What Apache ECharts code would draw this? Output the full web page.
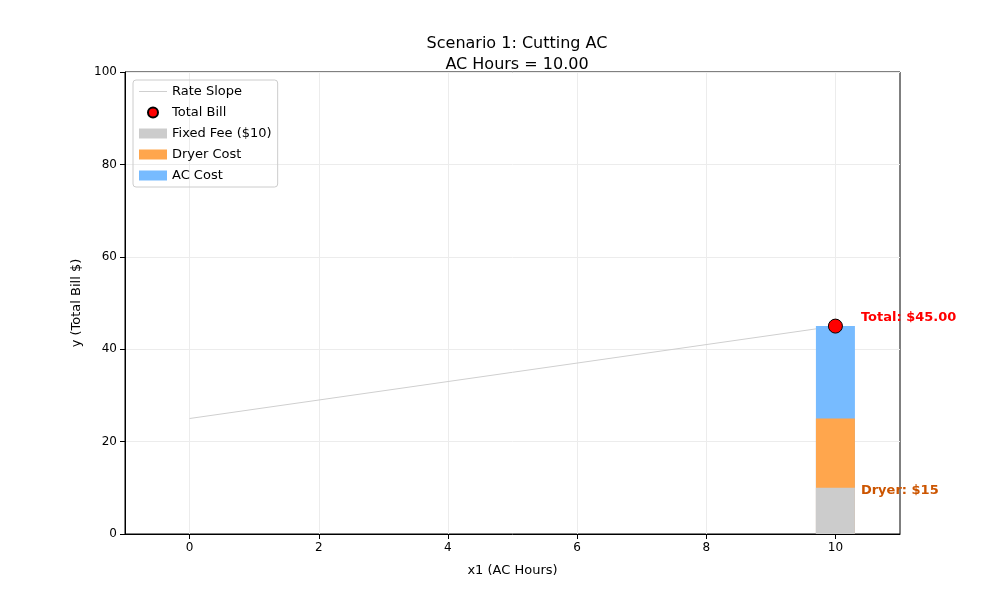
<!DOCTYPE html>
<html><head><meta charset="utf-8">
<script src="https://cdn.jsdelivr.net/npm/echarts@6/dist/echarts.min.js"></script>
<style>body{margin:0}#c{width:1000px;height:600px}</style></head>
<body><div id="c"></div>
<script>
const acHours = 10;
const fixedFee = [[10, 10]];
const dryerCost = [[10, 15]];
const acCost = [[10, 20]];
const totalBill = [[10, 45]];
const rateSlope = [[0, 25], [10, 45]];
const xTicks = [0, 2, 4, 6, 8, 10];
const yTicks = [0, 20, 40, 60, 80, 100];

const dryerTop = dryerCost.map((d, i) => [d[0], fixedFee[i][1] + d[1]]);
const acTop = acCost.map((d, i) => [d[0], dryerTop[i][1] + d[1]]);

const chart = echarts.init(document.getElementById('c'));
const font = 'DejaVu Sans';
chart.setOption({
  animation: false,
  textStyle: {fontFamily: font},
  title: {text: 'Scenario 1: Cutting AC\nAC Hours = ' + acHours.toFixed(2), left: 512, top: 28, textAlign: 'center',
    textStyle: {fontSize: 16, fontWeight: 'normal', color: '#000', lineHeight: 21, fontFamily: font}},
  grid: {left: 125, right: 100, top: 72, bottom: 66, show: true, borderColor: '#000', borderWidth: 1},
  legend: {orient: 'vertical', left: 133, top: 80, itemGap: 8, itemWidth: 28, itemHeight: 10,
    borderColor: '#ccc', borderWidth: 1, borderRadius: 3, padding: [5, 6, 5, 6],
    textStyle: {fontSize: 13, color: '#000', fontFamily: font},
    data: [{name: 'Rate Slope', icon: 'path://M0,5L28,5L28,6L0,6Z'}, {name: 'Total Bill', icon: 'circle', itemStyle: {opacity: 1}},
      {name: 'Fixed Fee ($10)', icon: 'rect'}, {name: 'Dryer Cost', icon: 'rect'}, {name: 'AC Cost', icon: 'rect'}]},
  xAxis: {type: 'value', min: -1, max: 11, name: 'x1 (AC Hours)', nameLocation: 'middle', nameGap: 30,
    nameTextStyle: {fontSize: 13, color: '#000'},
    axisLine: {onZero: false, lineStyle: {color: '#000'}},
    axisTick: {show: true, customValues: xTicks, lineStyle: {color: '#000'}},
    axisLabel: {color: '#000', fontSize: 12, customValues: xTicks},
    splitLine: {show: true, lineStyle: {color: '#ececec'}}},
  yAxis: {type: 'value', min: 0, max: 100, interval: 20, name: 'y (Total Bill $)', nameLocation: 'middle', nameGap: 42,
    nameTextStyle: {fontSize: 13, color: '#000'},
    axisLine: {show: true, onZero: false, lineStyle: {color: '#000'}}, axisTick: {show: true, lineStyle: {color: '#000'}},
    axisLabel: {color: '#000', fontSize: 12},
    splitLine: {show: true, lineStyle: {color: '#ececec'}}},
  series: [
    {name: 'Rate Slope', type: 'line', data: rateSlope, symbol: 'none', lineStyle: {color: '#cfcfcf', width: 1}, color: '#cfcfcf', z: 1},
    {name: 'AC Cost', type: 'bar', barWidth: 39, barGap: '-100%', data: acTop, itemStyle: {color: '#77bbff'}, z: 2},
    {name: 'Dryer Cost', type: 'bar', barWidth: 39, barGap: '-100%', data: dryerTop, itemStyle: {color: '#ffa64d'}, z: 3,
      label: {show: true, position: 'right', distance: 6, formatter: 'Dryer: $15', color: '#cc5500', fontWeight: 'bold', fontSize: 13, offset: [0, 14]}},
    {name: 'Fixed Fee ($10)', type: 'bar', barWidth: 39, barGap: '-100%', data: fixedFee, itemStyle: {color: '#cccccc'}, z: 4},
    {name: 'Total Bill', type: 'scatter', data: totalBill, symbolSize: 14, z: 5,
      itemStyle: {color: '#ff0000', opacity: 1, borderColor: '#000', borderWidth: 1},
      label: {show: true, position: 'right', distance: 18, offset: [0, -8], formatter: 'Total: $45.00', color: '#ff0000', fontWeight: 'bold', fontSize: 13}}
  ]
});
</script></body></html>
